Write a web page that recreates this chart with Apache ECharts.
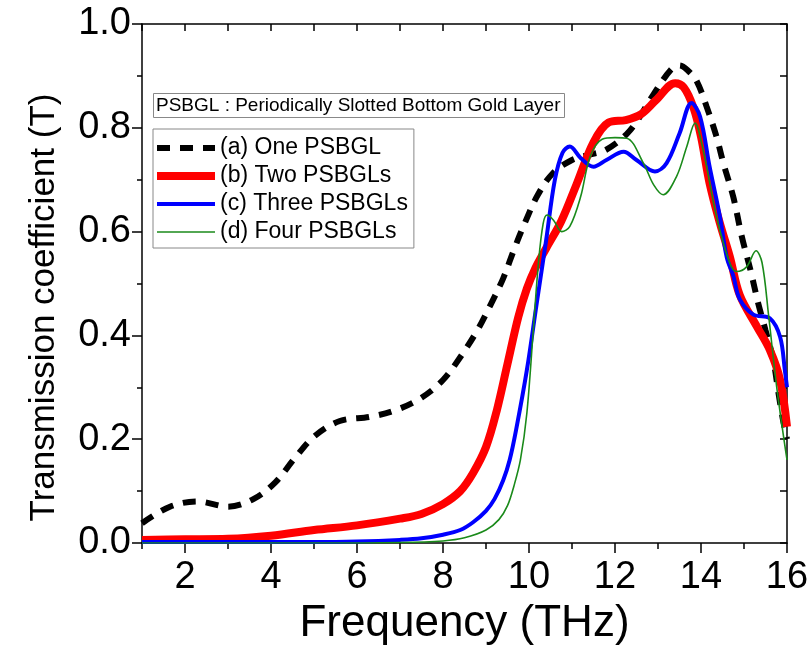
<!DOCTYPE html>
<html>
<head>
<meta charset="utf-8">
<script src="https://cdn.jsdelivr.net/npm/echarts@6/dist/echarts.min.js"></script>
<style>
  html, body { margin: 0; padding: 0; background: #fff; }
  #chart { width: 809px; height: 650px; }
</style>
</head>
<body>
<div id="chart"></div>
<script>
// Transmission spectra for 1–4 periodically slotted bottom gold layers
const seriesNames = ['(a) One PSBGL', '(b) Two PSBGLs', '(c) Three PSBGLs', '(d) Four PSBGLs'];

const onePSBGL = [
  [1, 0.038], [1.65, 0.07], [2.3, 0.08], [3.0, 0.07], [3.6, 0.085], [4.1, 0.117],
  [4.55, 0.163], [5.0, 0.205], [5.6, 0.235], [6.3, 0.243], [6.9, 0.256], [7.5, 0.28],
  [8.0, 0.314], [8.4, 0.358], [8.8, 0.41], [9.1, 0.458], [9.4, 0.51], [9.65, 0.565],
  [9.9, 0.616], [10.2, 0.67], [10.55, 0.712], [11.0, 0.738], [11.4, 0.748], [11.8, 0.758],
  [12.35, 0.795], [12.9, 0.865], [13.3, 0.912], [13.5, 0.92], [13.7, 0.91], [13.9, 0.89],
  [14.13, 0.841], [14.36, 0.783], [14.52, 0.732], [14.75, 0.667], [14.95, 0.59],
  [15.15, 0.526], [15.33, 0.462], [15.5, 0.41], [15.68, 0.353], [15.8, 0.29],
  [15.9, 0.24], [16, 0.2]
];

const twoPSBGLs = [
  [1, 0.006], [2, 0.007], [3, 0.008], [4, 0.014], [5, 0.025], [6, 0.034], [7, 0.047],
  [7.5, 0.056], [8.0, 0.075], [8.4, 0.1], [8.7, 0.135], [9.0, 0.185], [9.25, 0.255],
  [9.5, 0.345], [9.75, 0.435], [9.95, 0.49], [10.15, 0.53], [10.4, 0.568], [10.75, 0.62],
  [11.1, 0.69], [11.5, 0.772], [11.85, 0.81], [12.25, 0.815], [12.6, 0.826],
  [12.95, 0.853], [13.4, 0.886], [13.6, 0.878], [13.82, 0.84], [14.0, 0.783],
  [14.2, 0.693], [14.44, 0.616], [14.67, 0.552], [14.9, 0.478], [15.3, 0.417],
  [15.6, 0.372], [15.84, 0.314], [16, 0.224]
];

const threePSBGLs = [
  [1, 0.002], [3, 0.002], [5, 0.002], [6, 0.003], [7, 0.006], [7.5, 0.009], [8.0, 0.016],
  [8.4, 0.025], [8.7, 0.04], [9.0, 0.062], [9.2, 0.085], [9.4, 0.121], [9.55, 0.16],
  [9.7, 0.218], [9.95, 0.333], [10.18, 0.462], [10.4, 0.584], [10.6, 0.699],
  [10.78, 0.752], [10.95, 0.764], [11.2, 0.742], [11.5, 0.725], [11.8, 0.738],
  [12.2, 0.754], [12.5, 0.738], [12.93, 0.716], [13.2, 0.732], [13.5, 0.789],
  [13.78, 0.848], [13.98, 0.821], [14.2, 0.725], [14.44, 0.629], [14.6, 0.55],
  [14.75, 0.515], [14.9, 0.47], [15.22, 0.44], [15.6, 0.433], [15.84, 0.397],
  [15.95, 0.333], [16, 0.3]
];

const fourPSBGLs = [
  [1, 0.0], [5, 0.0], [7, 0.001], [8, 0.004], [8.5, 0.01], [9.0, 0.025], [9.3, 0.045],
  [9.5, 0.072], [9.65, 0.11], [9.8, 0.16], [9.95, 0.25], [10.1, 0.41], [10.22, 0.54],
  [10.33, 0.616], [10.42, 0.632], [10.57, 0.622], [10.76, 0.6], [10.95, 0.61],
  [11.2, 0.667], [11.42, 0.744], [11.7, 0.778], [12.0, 0.781], [12.27, 0.78],
  [12.66, 0.732], [12.9, 0.69], [13.12, 0.671], [13.43, 0.706], [13.67, 0.764],
  [13.86, 0.809], [14.05, 0.757], [14.36, 0.629], [14.67, 0.539], [14.83, 0.523],
  [15.06, 0.532], [15.28, 0.563], [15.42, 0.54], [15.57, 0.44], [15.76, 0.301],
  [16, 0.16]
];

const xMajorTicks = [2, 4, 6, 8, 10, 12, 14, 16];
const xMinorTicks = [1, 3, 5, 7, 9, 11, 13, 15];
const noteText = 'PSBGL : Periodically Slotted Bottom Gold Layer';

const FONT = '"Liberation Sans", Arial, sans-serif';
const chart = echarts.init(document.getElementById('chart'), null, { renderer: 'canvas' });

// Line appearance for each curve (shared by the plot and the legend keys)
const curveStyles = [
  { color: '#000000', width: 6, type: [13, 10] },
  { color: '#ff0000', width: 8, type: 'solid' },
  { color: '#0000ff', width: 4, type: 'solid' },
  { color: '#1a8a1a', width: 1.6, type: 'solid' }
];
const curveData = [onePSBGL, twoPSBGLs, threePSBGLs, fourPSBGLs];

const baseX = { type: 'value', min: 1, max: 16, interval: 1, gridIndex: 0 };
const axisColor = { color: '#000', width: 1.5 };

chart.setOption({
  animation: false,
  backgroundColor: '#fff',
  title: {
    text: noteText,
    left: 153, top: 93,
    padding: [3, 4, 3, 3],
    borderColor: '#888', borderWidth: 1,
    textStyle: { fontFamily: FONT, fontSize: 19, fontWeight: 'normal', color: '#000' }
  },
  legend: {
    orient: 'vertical',
    left: 153, top: 129,
    padding: [7, 6, 4, 0],
    itemWidth: 58, itemHeight: 16, itemGap: 4,
    borderColor: '#888', borderWidth: 1,
    textStyle: { fontFamily: FONT, fontSize: 23, color: '#000', lineHeight: 24 },
    data: seriesNames.map((name, i) => ({
      name: name,
      itemStyle: { opacity: 0 },
      lineStyle: { color: curveStyles[i].color, width: curveStyles[i].width, type: curveStyles[i].type }
    }))
  },
  grid: { left: 142, right: 22, top: 24, bottom: 107, containLabel: false, outerBoundsMode: 'none' },
  xAxis: [
    Object.assign({}, baseX, {
      position: 'bottom',
      name: 'Frequency (THz)', nameLocation: 'middle', nameGap: 34,
      nameTextStyle: { fontFamily: FONT, fontSize: 44, color: '#000' },
      axisLine: { show: true, onZero: false, lineStyle: axisColor },
      axisTick: { show: true, inside: false, length: 10, customValues: xMajorTicks, lineStyle: axisColor },
      axisLabel: { customValues: xMajorTicks, margin: 16, fontFamily: FONT, fontSize: 38, color: '#000' },
      splitLine: { show: false }
    }),
    Object.assign({}, baseX, {
      position: 'bottom',
      axisLine: { show: false, onZero: false },
      axisTick: { show: true, inside: false, length: 6, customValues: xMinorTicks, lineStyle: axisColor },
      axisLabel: { show: false },
      splitLine: { show: false }
    }),
    Object.assign({}, baseX, {
      position: 'top',
      axisLine: { show: true, onZero: false, lineStyle: axisColor },
      axisTick: { show: true, inside: true, length: 7, lineStyle: axisColor },
      axisLabel: { show: false },
      splitLine: { show: false }
    })
  ],
  yAxis: [
    {
      type: 'value', min: 0, max: 1, interval: 0.2, position: 'left',
      name: 'Transmission coefficient (T)', nameLocation: 'middle', nameGap: 80,
      nameTextStyle: { fontFamily: FONT, fontSize: 35, color: '#000', padding: [0, 48, 0, 0] },
      axisLine: { show: true, onZero: false, lineStyle: axisColor },
      axisTick: { show: true, inside: false, length: 10, lineStyle: axisColor },
      minorTick: { show: true, splitNumber: 2, length: 5, lineStyle: axisColor },
      axisLabel: { margin: 11, fontFamily: FONT, fontSize: 38, color: '#000', formatter: v => v.toFixed(1) },
      splitLine: { show: false }
    },
    {
      type: 'value', min: 0, max: 1, interval: 0.1, position: 'right',
      axisLine: { show: true, onZero: false, lineStyle: axisColor },
      axisTick: { show: true, inside: true, length: 7, lineStyle: axisColor },
      axisLabel: { show: false },
      splitLine: { show: false }
    }
  ],
  series: curveData.map((data, i) => ({
    name: seriesNames[i],
    type: 'line',
    data: data,
    smooth: 0.35,
    symbol: 'none',
    lineStyle: { color: curveStyles[i].color, width: curveStyles[i].width, type: curveStyles[i].type },
    itemStyle: { color: curveStyles[i].color },
    z: 2 + i
  }))
});
</script>
</body>
</html>
